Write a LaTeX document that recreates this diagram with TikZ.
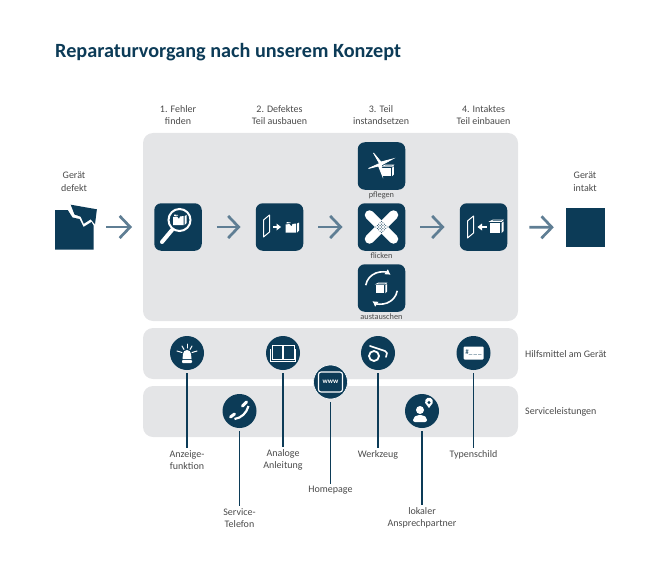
\documentclass[tikz,border=0pt]{standalone}
\usepackage{fontspec}
\setmainfont{Carlito}
\usetikzlibrary{positioning,arrows.meta,calc}
\definecolor{navy}   {HTML}{0C3B57}
\definecolor{steel}  {HTML}{5F7E94}
\definecolor{panelc} {HTML}{E4E5E7}
\definecolor{softink}{HTML}{4A4A4A}
\tikzset{
  >=stealth,
  % --- nodes
  panel/.style = {rounded corners=10pt, fill=panelc, minimum width=375pt, inner sep=0pt},
  tile/.style  = {rounded corners=7pt, fill=navy, minimum size=47.5pt, inner sep=0pt},
  disc/.style  = {circle, fill=navy, minimum size=34pt, inner sep=0pt},
  lbl/.style   = {font=\fontsize{10}{12.6}\selectfont, align=center, text=softink, inner sep=0pt},
  tiny/.style  = {font=\fontsize{8.3}{10}\selectfont, text=softink, inner sep=0pt},
  % --- edges
  e/.style     = {-{Straight Barb[length=10.5pt,width=22pt]}, line width=2.7pt, draw=steel},
  stem/.style  = {line width=1.2pt, draw=navy, shorten <=3pt},
  % --- glyphs
  wl/.style    = {draw=white, line width=1pt},
  pics/dentbox/.style = {code={
    \fill[white] (-6,-3) -- (-2,-3.5) -- (0,-1) -- (1,-3.5) -- (4.5,-4) -- (4.5,5) -- (-6,5) -- cycle;
    \fill[white] (-5,-5.5) -- (-1,-5) -- (-1,-4.5) -- (-5,-4) -- cycle;
    \fill[white] (5.5,-4) -- (7.5,-5) -- (7.5,3) -- (5.5,5) -- cycle;
  }},
  pics/cubebox/.style = {code={
    \fill[white] (-6,-4) -- (4,-4) -- (4,6) -- (-6,6) -- cycle;
    \draw[white, line width=.7pt] (-6,-5.5) -- (-3,-7) -- (7,-7) -- (5.5,-5.5) -- cycle;
    \fill[white] (5.5,-4) -- (7.5,-5.5) -- (7.5,4) -- (5.5,6) -- cycle;
  }},
  pics/door/.style = {code={
    \draw[wl, line join=round] (-3,-6) -- (3,-11) -- (3,6) -- (-3,11) -- cycle;
  }},
}
\begin{document}
\begin{tikzpicture}[x=1pt,y=-1pt]
  \useasboundingbox (0,0) rectangle (660,564);
  \node[font=\fontsize{20.2}{24}\selectfont\bfseries, text=navy, anchor=base west, inner sep=0pt]
    (title) at (55,58) {Reparaturvorgang nach unserem Konzept};

  \node[panel, minimum height=188pt] (main)  at (330.5,227) {};
  \node[panel, minimum height=51pt]  (hilfe) at (330.5,353.5) {};
  \node[panel, minimum height=51pt]  (serv)  at (330.5,411.5) {};

  % --- steps
  \node[lbl] (s1) at (178,115) {1. Fehler\\finden};
  \node[lbl] (s2) at (279.5,115) {2. Defektes\\Teil ausbauen};
  \node[lbl] (s3) at (381,115) {3. Teil\\instandsetzen};
  \node[lbl] (s4) at (483.5,115) {4. Intaktes\\Teil einbauen};
  \node[lbl] (gd) at (74,182) {Gerät\\defekt};
  \node[lbl] (gi) at (585,182) {Gerät\\intakt};

  \node[minimum width=42pt, minimum height=45pt, inner sep=0pt] (defekt) at (76,227) {};
  \fill[navy] (55,210) -- (67.7,210) -- (72.5,217.5) -- (79.5,219) -- (83.5,227) -- (91.5,222) -- (93.5,225.5)
     -- (93.5,249.5) -- (55,249.5) -- cycle;
  \fill[navy] (70.7,204.7) -- (96.9,209.3) -- (95,224.3) -- (90.7,219.3) -- (83.8,223.7) -- (80.7,216.7) -- (74.5,214.5) -- cycle;
  \node[minimum size=39pt, fill=navy, inner sep=0pt] (intakt) at (585.5,227.5) {};

  \node[tile] (lupe) at (178,227) {};
  \node[tile] (aus)  at (279.5,227) {};
  \node[tile] (pfl)  at (381.5,166) {};
  \node[tile] (fli)  at (381.5,227) {};
  \node[tile] (tau)  at (381.5,288) {};
  \node[tile] (ein)  at (483.5,227) {};
  \node[tiny, below=1.5pt of pfl] (pfllbl) {pflegen};
  \node[tiny, below=1.5pt of fli] (flilbl) {flicken};
  \node[tiny, below=1.5pt of tau] (taulbl) {austauschen};

  \draw[e, shorten <=9pt, shorten >=22pt] (defekt) -- (lupe);
  \draw[e, shorten <=15pt, shorten >=15pt] (lupe) -- (aus);
  \draw[e, shorten <=15pt, shorten >=15pt] (aus) -- (fli);
  \draw[e, shorten <=15pt, shorten >=15pt] (fli) -- (ein);
  \draw[e, shorten <=22pt, shorten >=12pt] (ein) -- (intakt);

  % --- tile glyphs
  \draw[white, line width=2pt] ($(lupe)+(1.5,-7)$) circle (11pt);
  \draw[white, line width=4pt, line cap=round] ($(lupe)+(-6,3)$) -- ($(lupe)+(-16,15)$);
  \pic at ($(lupe)+(1,-7)$) {dentbox};

  \pic at ($(aus)+(-13,-1)$) {door};
  \fill[white] ($(aus)+(-7,-.8)$) rectangle ($(aus)+(-2,.8)$);
  \fill[white] ($(aus)+(-3,-3.5)$) -- ($(aus)+(1.5,0)$) -- ($(aus)+(-3,3.5)$) -- cycle;
  \pic at ($(aus)+(12,0.5)$) {dentbox};

  \pic at ($(ein)+(-13,0)$) {door};
  \fill[white] ($(ein)+(-2,-.8)$) rectangle ($(ein)+(3,.8)$);
  \fill[white] ($(ein)+(-1.5,-3.5)$) -- ($(ein)+(-6,0)$) -- ($(ein)+(-1.5,3.5)$) -- cycle;
  \pic at ($(ein)+(12.5,0)$) {cubebox};

  \draw[white, line width=.8pt, fill=white] ($(pfl)+(-13,2.5)$) -- ($(pfl)+(-2,-2.5)$) -- ($(pfl)+(-8,-13)$) -- ($(pfl)+(-.5,-4)$)
    -- ($(pfl)+(11,-7)$) -- ($(pfl)+(0,-1)$) -- ($(pfl)+(1,10)$) -- ($(pfl)+(-3,0)$) -- cycle;
  \pic[scale=.85] at ($(pfl)+(6,5)$) {cubebox};

  \draw[white, line width=9.5pt, line cap=round] ($(fli)+(-12,-12)$) -- ($(fli)+(12,12)$);
  \draw[white, line width=9.5pt, line cap=round] ($(fli)+(12,-12)$) -- ($(fli)+(-12,12)$);
  \foreach \i in {-2,-1,0,1,2}
    \foreach \j in {-2,-1,0,1,2}
      \fill[navy] ($(fli)+({(\i+\j)*1.4},{(\i-\j)*1.4})$) circle (.55pt);

  \draw[white, line width=1.6pt, -{Latex[length=5.5pt,width=6.5pt]}] ($(tau)+(170:16pt)$) arc[start angle=170, end angle=55, radius=16pt];
  \draw[white, line width=1.6pt, -{Latex[length=5.5pt,width=6.5pt]}] ($(tau)+(-10:16pt)$) arc[start angle=-10, end angle=-125, radius=16pt];
  \pic[scale=.8] at ($(tau)+(-.5,.5)$) {cubebox};

  % --- tools and services
  \node[disc] (alarm) at (187,353) {};
  \node[disc] (buch)  at (283,353) {};
  \node[disc] (werk)  at (378,353) {};
  \node[disc] (typ)   at (473.5,353) {};
  \node[disc] (tel)   at (239.5,411) {};
  \node[disc] (pers)  at (422,411) {};
  \node[disc, draw=white, line width=.6pt] (web) at (330.5,382) {};

  \node[lbl] (a1) at (187,460)   {Anzeige-\\funktion};
  \node[lbl] (a2) at (239.5,518) {Service-\\Telefon};
  \node[lbl] (a3) at (283,460)   {Analoge\\Anleitung};
  \node[lbl] (a4) at (330.5,490.5) {Homepage};
  \node[lbl] (a5) at (378,454.5)   {Werkzeug};
  \node[lbl] (a6) at (422,518)   {lokaler\\Ansprechpartner};
  \node[lbl] (a7) at (473.5,454.5) {Typenschild};
  \node[lbl, anchor=west] (h) at (525,354) {Hilfsmittel am Gerät};
  \node[lbl, anchor=west] (d) at (525,412) {Serviceleistungen};

  \draw[stem, shorten >=2pt] (alarm) -- (a1);
  \draw[stem, shorten >=2pt] (tel)   -- (a2);
  \draw[stem, shorten >=2pt] (buch)  -- (a3);
  \draw[stem, shorten >=2pt] (web)   -- (a4);
  \draw[stem, shorten >=2pt] (werk)  -- (a5);
  \draw[stem, shorten >=2pt] (pers)  -- (a6);
  \draw[stem, shorten >=2pt] (typ)   -- (a7);

  % --- disc glyphs
  \fill[white] ($(alarm)+(-4.5,6)$) -- ($(alarm)+(-4,1)$) arc[start angle=180, end angle=0, radius=4pt] -- ($(alarm)+(4.5,6)$) -- cycle;
  \fill[white, rounded corners=.8pt] ($(alarm)+(-5,7)$) rectangle ($(alarm)+(5,10)$);
  \foreach \a/\b/\c/\d in {-10/-2/-5/-.5, -5/-7/-3/-3.5, 0/-9/0/-5, 5/-7/3/-3.5, 10/-2/5/-.5}
    \draw[white, line width=1pt, line cap=round] ($(alarm)+(\a,\b)$) -- ($(alarm)+(\c,\d)$);

  \draw[white, line width=.9pt] ($(buch)+(-11,-7.5)$) rectangle ($(buch)+(-.7,6.5)$);
  \draw[white, line width=.9pt] ($(buch)+(.7,-7.5)$) rectangle ($(buch)+(11,6.5)$);
  \draw[white, line width=.6pt] ($(buch)+(-12.5,-4)$) -- ($(buch)+(-12.5,8)$) -- ($(buch)+(12.5,8)$) -- ($(buch)+(12.5,-4)$);

  \draw[white, line width=1.1pt, rounded corners=2.5pt] ($(web)+(-12,-10)$) rectangle ($(web)+(12,10)$);
  \node[font=\fontsize{7}{8}\selectfont\bfseries, text=white, inner sep=0pt] (wwwtxt) at (web) {www};

  \draw[white, line width=3pt, line cap=round] ($(tel)+(-9,6)$) -- ($(tel)+(-5,3)$);
  \draw[white, line width=3pt, line cap=round] ($(tel)+(3,-5)$) -- ($(tel)+(7,-9)$);
  \draw[white, line width=2.2pt] ($(tel)+(-5,8)$) .. controls ($(tel)+(2,7)$) and ($(tel)+(7,2)$) .. ($(tel)+(9,-5)$);

  \draw[white, line width=1.8pt] ($(werk)+(-4,3)$) circle (5pt);
  \draw[white, line width=1.6pt, line join=round, line cap=round] ($(werk)+(-8,-7)$) -- ($(werk)+(7,-2)$) -- ($(werk)+(9,0)$) -- ($(werk)+(8,4)$);

  \fill[white, rounded corners=1pt] ($(typ)+(-10,-6.5)$) rectangle ($(typ)+(10,6.5)$);
  \node[font=\fontsize{7}{8}\selectfont, text=navy, inner sep=0pt] (typtxt) at (typ) {\#\_\,\_\,\_};

  \fill[white] ($(pers)+(-2,-1)$) circle (4pt);
  \fill[white, rounded corners=2pt] ($(pers)+(-9,11)$) -- ($(pers)+(-9,7)$) -- ($(pers)+(-5,4)$) -- ($(pers)+(1,4)$) -- ($(pers)+(5,7)$) -- ($(pers)+(5,11)$) -- cycle;
  \fill[white] ($(pers)+(7,-3)$) -- ($(pers)+(3.2,-8)$) arc[start angle=200, end angle=-20, radius=4pt] -- cycle;
  \fill[navy] ($(pers)+(7,-8.5)$) circle (1.6pt);
\end{tikzpicture}
\end{document}
